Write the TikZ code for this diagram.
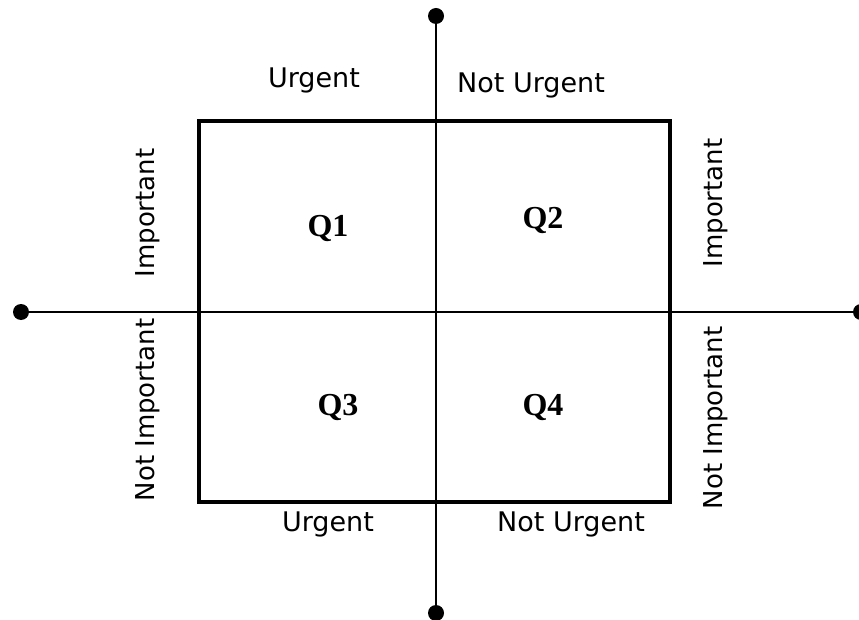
\documentclass[tikz,border=0pt]{standalone}
\usepackage{fontspec}
\setmainfont{Liberation Serif}
\newfontfamily\lblfont{DejaVu Sans}
\begin{document}
\begin{tikzpicture}[x=1pt,y=-1pt,
  axisline/.style={line width=2.4pt,black},
  dotnode/.style={circle,fill=black,inner sep=0pt,minimum size=16pt},
  lbl/.style={font=\lblfont\fontsize{27}{31}\selectfont,inner sep=0pt},
  vlbl/.style={font=\lblfont\fontsize{26}{30}\selectfont,inner sep=0pt,rotate=90},
  qlbl/.style={font=\bfseries\fontsize{32}{36}\selectfont,inner sep=0pt}]
\useasboundingbox (0,0) rectangle (859,620);
% end dots
\node[dotnode] (dl) at (21,312) {};
\node[dotnode] (dr) at (861,312) {};
\node[dotnode] (dt) at (436,16) {};
\node[dotnode] (db) at (436,613) {};
% box corners
\coordinate (tl) at (199,121);
\coordinate (br) at (670,502);
\draw[line width=3.6pt] (tl) rectangle (br);
% axes
\draw[axisline] (dl.center) -- (dr.center);
\draw[axisline] (dt.center) -- (db.center);
% labels
\node[lbl] (tu) at (314,80) {Urgent};
\node[lbl] (tnu) at (531,85) {Not Urgent};
\node[lbl] (bu) at (328,524) {Urgent};
\node[lbl] (bnu) at (571,524) {Not Urgent};
\node[vlbl] (li) at (148,213) {Important};
\node[vlbl] (lni) at (148,410) {Not Important};
\node[vlbl] (ri) at (716,203) {Important};
\node[vlbl] (rni) at (716,418) {Not Important};
% quadrants
\node[qlbl] (q1) at (328,229) {Q1};
\node[qlbl] (q2) at (543,221) {Q2};
\node[qlbl] (q3) at (338,407) {Q3};
\node[qlbl] (q4) at (543,407) {Q4};
\end{tikzpicture}
\end{document}
